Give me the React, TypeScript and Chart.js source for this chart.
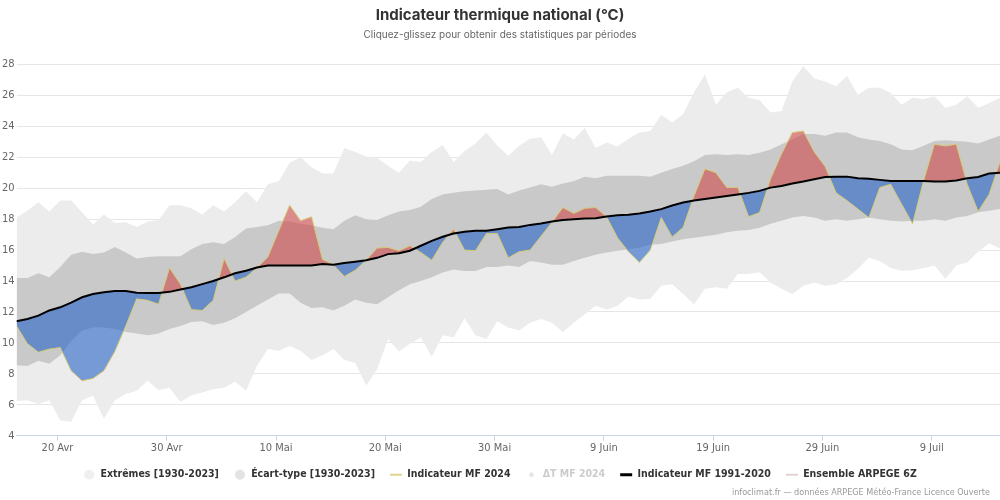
import React, { useEffect, useRef } from "react";
import { Chart, registerables } from "chart.js";

Chart.register(...registerables);

// Days counted from 16 Avr 00:00; daily values are taken at 06:00.
const FIRST_DAY = 0.25;
const LAST_DAY = 90.25;

const tickDays = [4, 14, 24, 34, 44, 54, 64, 74, 84];
const tickLabels = ["20 Avr", "30 Avr", "10 Mai", "20 Mai", "30 Mai", "9 Juin", "19 Juin", "29 Juin", "9 Juil"];
const yTicks = [4, 6, 8, 10, 12, 14, 16, 18, 20, 22, 24, 26, 28];

// Extrêmes [1930-2023]
const extremesLow = [
  6.25, 6.3, 6.05, 6.3, 5.0, 4.9, 6.3, 6.6, 5.1, 6.3,
  6.7, 6.9, 7.55, 6.95, 7.1, 6.2, 6.6, 6.8, 7.0, 7.1,
  7.5, 6.9, 8.5, 9.6, 9.5, 9.8, 9.5, 8.9, 9.2, 9.6,
  8.9, 8.7, 7.25, 8.3, 10.25, 9.45, 9.95, 10.35, 9.1, 10.5,
  10.35, 11.6, 10.5, 10.25, 11.4, 11.0, 10.8, 11.3, 11.55, 11.3,
  10.7, 11.3, 11.85, 12.4, 12.15, 12.4, 13.0, 12.8, 12.85, 13.7,
  13.8, 13.16, 12.5, 13.5, 13.6, 13.5, 14.45, 14.45, 14.56, 13.9,
  13.5, 13.16, 13.7, 13.9, 13.7, 13.8, 14.2, 14.8, 15.5, 15.3,
  14.85, 14.67, 14.7, 14.85, 15.0, 14.15, 15.0, 15.2, 15.9, 16.45,
  16.1,
];
const extremesHigh = [
  18.1, 18.55, 19.1, 18.5, 19.2, 19.2, 18.45, 17.65, 18.3, 17.75,
  17.8, 17.5, 17.85, 17.95, 18.9, 18.9, 18.7, 18.3, 18.9, 18.5,
  19.1, 19.8, 19.1, 20.25, 20.45, 21.65, 22.0, 21.35, 20.95, 20.95,
  22.6, 22.35, 22.05, 21.95, 21.45, 21.0, 21.8, 21.7, 22.35, 22.8,
  21.7, 22.4, 22.9, 23.6, 22.75, 22.1, 22.75, 23.2, 23.3, 22.15,
  23.55, 23.15, 23.9, 22.6, 22.95, 22.7, 23.2, 23.6, 23.7, 24.75,
  24.25, 24.8, 26.2, 27.35, 25.4, 26.2, 26.5, 25.85, 25.7, 24.9,
  25.0, 26.9, 27.9, 27.1, 26.9, 26.6, 27.25, 26.05, 26.5, 26.5,
  26.15, 25.4, 25.85, 25.75, 25.95, 25.2, 25.4, 25.95, 25.2, 25.5,
  25.85,
];

// Écart-type [1930-2023]
const stdLow = [
  8.55, 8.5, 8.85, 8.65, 9.2, 10.1, 10.8, 11.0, 11.0, 10.9,
  10.7, 10.6, 10.5, 10.6, 10.9, 11.1, 11.35, 11.4, 11.15, 11.3,
  11.6, 12.0, 12.4, 12.8, 13.2, 13.2, 12.6, 12.25, 12.3, 12.1,
  12.4, 12.8, 12.6, 12.5, 12.95, 13.4, 13.8, 14.0, 14.25, 14.55,
  14.75, 14.65, 14.65, 14.9, 14.9, 15.0, 14.9, 15.3, 15.2, 15.05,
  15.05, 15.3, 15.5, 15.7, 15.85, 15.95, 16.05, 16.15, 16.35, 16.4,
  16.55, 16.7, 16.8, 16.9, 17.0, 17.15, 17.25, 17.3, 17.45, 17.7,
  17.9, 18.1, 18.2, 18.1, 17.9, 18.0, 17.9, 18.0, 18.1, 18.0,
  17.9, 17.85, 17.9, 17.9, 18.0, 17.9, 18.1, 18.2, 18.45, 18.55,
  18.65,
];
const stdHigh = [
  14.2, 14.2, 14.5, 14.25, 14.9, 15.7, 15.9, 15.75, 15.85, 16.2,
  15.85, 15.45, 15.55, 15.6, 15.6, 15.6, 16.05, 16.4, 16.5, 16.4,
  16.85, 17.4, 17.5, 17.6, 17.9, 17.85, 17.7, 17.6, 17.45, 17.35,
  17.9, 18.25, 18.0, 17.95, 18.25, 18.5, 18.6, 18.8, 19.3, 19.6,
  19.7, 19.8, 19.85, 19.9, 19.95, 19.6, 19.85, 20.05, 20.25, 20.1,
  20.3, 20.45, 20.75, 20.65, 20.8, 20.8, 20.8, 20.8, 20.75, 21.0,
  21.25, 21.45, 21.75, 22.15, 22.2, 22.15, 22.2, 22.15, 22.3, 22.5,
  22.85, 23.15, 23.5, 23.5, 23.4, 23.6, 23.6, 23.3, 23.15, 23.05,
  22.85, 22.5, 22.45, 22.75, 23.05, 23.1, 23.05, 23.0, 22.9, 23.15,
  23.4,
];

// Indicateur MF 1991-2020
const normal = [
  11.4, 11.55, 11.76, 12.1, 12.3, 12.6, 12.95, 13.16, 13.27, 13.35,
  13.35, 13.25, 13.23, 13.23, 13.3, 13.45, 13.6, 13.8, 14.0, 14.24,
  14.5, 14.67, 14.88, 15.0, 15.0, 15.0, 15.0, 15.0, 15.1, 15.05,
  15.16, 15.25, 15.35, 15.5, 15.74, 15.8, 15.96, 16.28, 16.6, 16.86,
  17.07, 17.18, 17.25, 17.25, 17.35, 17.46, 17.5, 17.63, 17.72, 17.85,
  17.94, 18.0, 18.04, 18.06, 18.17, 18.25, 18.28, 18.37, 18.5, 18.65,
  18.88, 19.08, 19.2, 19.3, 19.4, 19.5, 19.6, 19.7, 19.83, 20.04,
  20.15, 20.3, 20.43, 20.58, 20.73, 20.75, 20.75, 20.65, 20.62, 20.54,
  20.47, 20.47, 20.47, 20.47, 20.43, 20.43, 20.5, 20.65, 20.73, 20.95,
  21.0,
];

// Indicateur MF 2024
const mf2024 = [
  11.1, 9.95, 9.4, 9.6, 9.7, 8.2, 7.55, 7.7, 8.2, 9.45,
  11.1, 12.85, 12.75, 12.5, 14.85, 13.8, 12.15, 12.1, 12.75, 15.45,
  14.0, 14.25, 14.85, 15.55, 17.25, 18.9, 17.9, 18.15, 15.4, 15.05,
  14.3, 14.7, 15.35, 16.13, 16.17, 15.96, 16.28, 15.85, 15.35, 16.5,
  17.35, 16.0, 15.96, 17.07, 17.07, 15.5, 15.9, 16.0, 16.9, 17.8,
  18.75, 18.37, 18.7, 18.75, 18.15, 16.8, 15.9, 15.2, 16.0, 18.1,
  16.85, 17.46, 19.5, 21.25, 21.0, 20.04, 20.06, 18.16, 18.43, 20.6,
  22.2, 23.6, 23.7, 22.35, 21.4, 19.7, 19.2, 18.65, 18.1, 20.04,
  20.26, 18.97, 17.7, 20.47, 22.84, 22.73, 22.84, 20.26, 18.5, 19.6,
  21.7,
];

// ΔT MF 2024 (masqué) et Ensemble ARPEGE 6Z (sans valeur visible)
const deltaMF2024: number[] = [];
const ensembleArpege: number[] = [];

const COND = '"DejaVu Sans Condensed", "Liberation Sans Narrow", "DejaVu Sans", sans-serif';

const toPoints = (arr: number[]) => arr.map((y, i) => ({ x: FIRST_DAY + i, y }));

const makeDot = (radius: number, color: string) => {
  const size = Math.ceil(radius * 2) + 2;
  const cv = document.createElement("canvas");
  cv.width = size;
  cv.height = size;
  const c = cv.getContext("2d");
  if (c) {
    c.fillStyle = color;
    c.beginPath();
    c.arc(size / 2, size / 2, radius, 0, Math.PI * 2);
    c.fill();
  }
  return cv;
};

const creditsPlugin = {
  id: "credits",
  afterDraw(chart: any) {
    const c = chart.ctx;
    c.save();
    c.font = `9px ${COND}`;
    c.fillStyle = "#999999";
    c.textAlign = "right";
    c.textBaseline = "middle";
    c.fillText("infoclimat.fr — données ARPEGE Météo-France Licence Ouverte", 990, 493);
    c.restore();
  },
};

export default function App() {
  const ref = useRef<HTMLCanvasElement>(null);

  useEffect(() => {
    document.body.style.margin = "0";
    const canvas = ref.current;
    if (!canvas) return;
    const dotExtremes = makeDot(5, "#efefef");
    const dotStd = makeDot(5, "#e3e3e3");
    const dotDelta = makeDot(2.2, "#e3e3e3");
    const chart = new Chart(canvas, {
      type: "line",
      data: {
        datasets: [
          {
            label: "extremesLow",
            data: toPoints(extremesLow),
            borderWidth: 0,
            pointRadius: 0,
            fill: false,
            order: 10,
          },
          {
            label: "Extrêmes [1930-2023]",
            data: toPoints(extremesHigh),
            borderWidth: 0,
            pointRadius: 0,
            backgroundColor: "#ececec",
            fill: "-1",
            order: 9,
          },
          {
            label: "stdLow",
            data: toPoints(stdLow),
            borderWidth: 0,
            pointRadius: 0,
            fill: false,
            order: 8,
          },
          {
            label: "Écart-type [1930-2023]",
            data: toPoints(stdHigh),
            borderWidth: 0,
            pointRadius: 0,
            backgroundColor: "#c9c9c9",
            fill: "-1",
            order: 7,
          },
          {
            label: "Indicateur MF 1991-2020",
            data: toPoints(normal),
            borderColor: "#000000",
            borderWidth: 2,
            pointRadius: 0,
            fill: false,
            order: 1,
          },
          {
            label: "Indicateur MF 2024",
            data: toPoints(mf2024),
            borderColor: "rgba(214, 204, 110, 0.95)",
            borderWidth: 1,
            pointRadius: 0,
            fill: {
              target: 4,
              above: "rgba(205, 60, 60, 0.55)",
              below: "rgba(40, 100, 200, 0.6)",
            },
            order: 2,
          },
          {
            label: "ΔT MF 2024",
            data: toPoints(deltaMF2024),
            hidden: true,
            pointRadius: 0,
            order: 3,
          },
          {
            label: "Ensemble ARPEGE 6Z",
            data: toPoints(ensembleArpege),
            borderColor: "#e3d3d3",
            borderWidth: 1,
            pointRadius: 0,
            order: 4,
          },
        ],
      },
      options: {
        responsive: false,
        devicePixelRatio: 1,
        animation: false,
        events: [],
        layout: { padding: { left: 0, right: 0, top: 0, bottom: 10 } },
        scales: {
          x: {
            type: "linear",
            min: FIRST_DAY,
            max: LAST_DAY,
            afterBuildTicks: (scale: any) => {
              scale.ticks = tickDays.map((v) => ({ value: v }));
            },
            afterFit: (scale: any) => {
              scale.height = 18.8;
            },
            ticks: {
              autoSkip: false,
              maxRotation: 0,
              padding: 1,
              color: "#666666",
              font: { family: COND, size: 11 },
              callback: (_v: any, index: number) => tickLabels[index],
            },
            grid: {
              drawOnChartArea: false,
              drawTicks: true,
              tickLength: 5,
              color: "#ccd6eb",
            },
            border: { display: true, color: "#ccd6eb" },
          },
          y: {
            min: 4,
            max: 28,
            afterBuildTicks: (scale: any) => {
              scale.ticks = yTicks.map((v) => ({ value: v }));
            },
            afterFit: (scale: any) => {
              scale.width = 16.5;
            },
            ticks: {
              padding: 2,
              color: "#666666",
              font: { family: COND, size: 11 },
            },
            grid: { color: "#e6e6e6", drawTicks: false },
            border: { display: false },
          },
        },
        plugins: {
          tooltip: { enabled: false },
          title: {
            display: true,
            text: "Indicateur thermique national (°C)",
            color: "#333333",
            font: { family: "Inter", size: 15, weight: "bold" },
            padding: { top: 6, bottom: 2 },
          },
          subtitle: {
            display: true,
            text: "Cliquez-glissez pour obtenir des statistiques par périodes",
            color: "#666666",
            font: { family: "Inter", size: 10 },
            padding: { top: 3, bottom: 23.5 },
          },
          legend: {
            position: "bottom",
            labels: {
              usePointStyle: true,
              pointStyleWidth: 12,
              boxHeight: 7,
              padding: 15,
              color: "#333333",
              font: { family: COND, size: 10.5, weight: "bold" },
              generateLabels: () => [
                { text: "Extrêmes [1930-2023]", fontColor: "#333333", fillStyle: "#efefef", strokeStyle: "#efefef", lineWidth: 0, pointStyle: dotExtremes, hidden: false, datasetIndex: 1 },
                { text: "Écart-type [1930-2023]", fontColor: "#333333", fillStyle: "#e3e3e3", strokeStyle: "#e3e3e3", lineWidth: 0, pointStyle: dotStd, hidden: false, datasetIndex: 3 },
                { text: "Indicateur MF 2024", fontColor: "#333333", fillStyle: "#ddd68c", strokeStyle: "#ddd68c", lineWidth: 2, pointStyle: "line", hidden: false, datasetIndex: 5 },
                { text: "ΔT MF 2024", fontColor: "#cccccc", fillStyle: "#e3e3e3", strokeStyle: "#e3e3e3", lineWidth: 0, pointStyle: dotDelta, hidden: false, datasetIndex: 6 },
                { text: "Indicateur MF 1991-2020", fontColor: "#333333", fillStyle: "#000000", strokeStyle: "#000000", lineWidth: 3, pointStyle: "line", hidden: false, datasetIndex: 4 },
                { text: "Ensemble ARPEGE 6Z", fontColor: "#333333", fillStyle: "#e3d3d3", strokeStyle: "#e3d3d3", lineWidth: 2, pointStyle: "line", hidden: false, datasetIndex: 7 },
              ] as any,
            },
          },
        },
      } as any,
      plugins: [creditsPlugin],
    });
    return () => chart.destroy();
  }, []);

  return <canvas ref={ref} width={1000} height={500} style={{ display: "block" }} />;
}
